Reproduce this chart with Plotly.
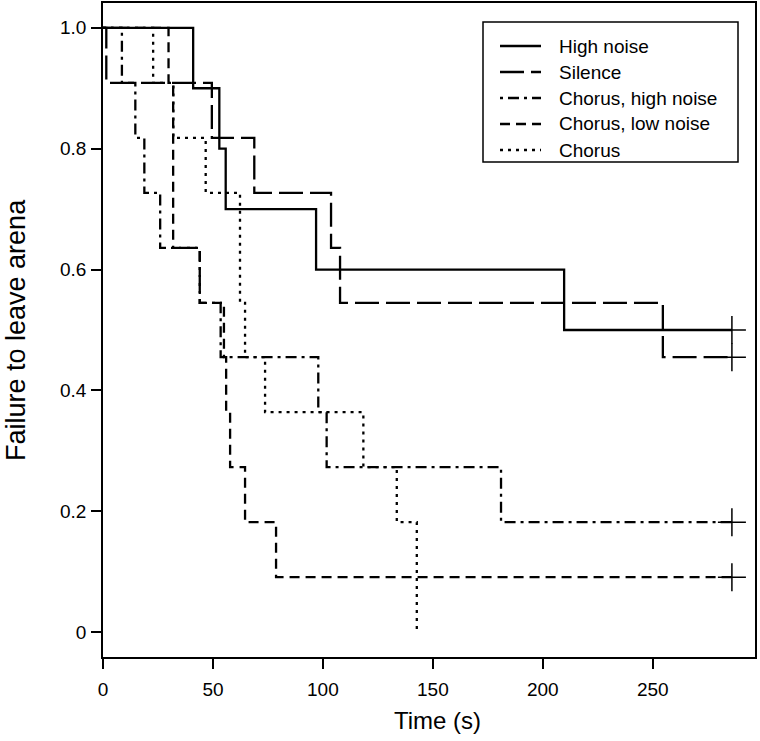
import plotly.graph_objects as go

# ---- data (Kaplan-Meier step curves) ----
high_noise_t = [0, 41.0, 52.9, 55.8, 96.9, 209.7, 286]
high_noise_s = [1.0, 0.9, 0.8, 0.7, 0.6, 0.5, 0.5]

silence_t = [0, 1.5, 49.5, 68.8, 103.7, 107.8, 254.6, 286]
silence_s = [1.0, 0.909, 0.818, 0.727, 0.636, 0.545, 0.455, 0.455]

chorus_high_t = [0, 8.6, 14.7, 18.8, 26.0, 44.0, 53.5, 97.9, 101.7, 181.0, 286]
chorus_high_s = [1.0, 0.909, 0.818, 0.727, 0.636, 0.545, 0.455, 0.364, 0.273, 0.182, 0.182]

chorus_low_t = [0, 29.8, 31.9, 44.0, 55.0, 56.0, 57.8, 64.6, 78.7, 286]
chorus_low_s = [1.0, 0.909, 0.636, 0.545, 0.455, 0.364, 0.273, 0.182, 0.091, 0.091]

chorus_t = [0, 22.8, 32.0, 46.7, 62.3, 64.6, 73.7, 118.4, 133.6, 142.7]
chorus_s = [1.0, 0.909, 0.818, 0.727, 0.545, 0.455, 0.364, 0.273, 0.182, 0.0]

censor_t = [286, 286, 286, 286]
censor_s = [0.5, 0.455, 0.182, 0.091]

series_names = ["High noise", "Silence", "Chorus, high noise", "Chorus, low noise", "Chorus"]
x_ticks = [0, 50, 100, 150, 200, 250]
y_ticks = [0, 0.2, 0.4, 0.6, 0.8, 1.0]
y_tick_text = ["0", "0.2", "0.4", "0.6", "0.8", "1.0"]

# ---- styling ----
dashes = ["solid", "24px,7px", "3px,5px,11px,5px", "10px,6px", "3px,5px"]
LW = 2.3
FONT = "Liberation Sans, Arial, Helvetica, sans-serif"

W, H = 760, 741
L, R, T, B = 103, 755, 3, 657  # plot area in pixels


def px(xp):
    return (xp - L) / (R - L)


def py(yp):
    return (B - yp) / (B - T)


fig = go.Figure()
all_t = [high_noise_t, silence_t, chorus_high_t, chorus_low_t, chorus_t]
all_s = [high_noise_s, silence_s, chorus_high_s, chorus_low_s, chorus_s]
for name, t, s, d in zip(series_names, all_t, all_s, dashes):
    fig.add_trace(go.Scatter(
        x=t, y=s, mode="lines", name=name, line_shape="hv",
        line=dict(color="black", width=LW, dash=d), showlegend=False,
    ))

fig.add_trace(go.Scatter(
    x=censor_t, y=censor_s, mode="markers", showlegend=False,
    marker=dict(symbol="cross-thin", size=20, color="black",
                line=dict(color="black", width=1.5)),
))

# ---- legend (drawn manually to match the boxed R legend) ----
leg_left, leg_right, leg_top, leg_bottom = 483, 738, 22, 162
fig.add_shape(type="rect", xref="paper", yref="paper",
              x0=px(leg_left), x1=px(leg_right), y0=py(leg_bottom), y1=py(leg_top),
              line=dict(color="black", width=1.5), fillcolor="white")
row_y = [46, 72, 98, 124, 150]
for name, d, yy in zip(series_names, dashes, row_y):
    fig.add_shape(type="line", xref="paper", yref="paper",
                  x0=px(500), x1=px(541), y0=py(yy), y1=py(yy),
                  line=dict(color="black", width=LW, dash=d))
    fig.add_annotation(xref="paper", yref="paper", x=px(557), y=py(yy),
                       text=name, showarrow=False, xanchor="left", yanchor="middle",
                       font=dict(family=FONT, size=19, color="black"))

# ---- axis titles ----
fig.add_annotation(xref="paper", yref="paper", x=px(437), y=py(720),
                   text="Time (s)", showarrow=False, xanchor="center", yanchor="middle",
                   font=dict(family=FONT, size=24, color="black"))
fig.add_annotation(xref="paper", yref="paper", x=px(16), y=0.5,
                   text="Failure to leave arena", showarrow=False, textangle=-90,
                   xanchor="center", yanchor="middle",
                   font=dict(family=FONT, size=27, color="black"))

fig.update_layout(
    width=W, height=H,
    margin=dict(l=L, r=W - R, t=T, b=H - B, pad=0),
    paper_bgcolor="white", plot_bgcolor="white",
    font=dict(family=FONT, size=19, color="black"),
    showlegend=False,
)
fig.update_xaxes(
    range=[0, 296.5], tickvals=x_ticks, ticks="outside", ticklen=10, tickwidth=1.5,
    tickcolor="black", showline=True, linewidth=1.5, linecolor="black", mirror=True,
    showgrid=False, zeroline=False, tickfont=dict(size=19), ticklabelstandoff=4,
    automargin=False,
)
fig.update_yaxes(
    range=[-0.041, 1.041], tickvals=y_ticks, ticktext=y_tick_text, ticks="outside",
    ticklen=10, tickwidth=1.5, tickcolor="black", showline=True, linewidth=1.5,
    linecolor="black", mirror=True, showgrid=False, zeroline=False,
    tickfont=dict(size=19), ticklabelstandoff=1, automargin=False,
)

fig.write_html(
    "out.html",
    config={"displayModeBar": False},
    post_script="document.body.style.margin='0px';document.body.style.padding='0px';",
)
